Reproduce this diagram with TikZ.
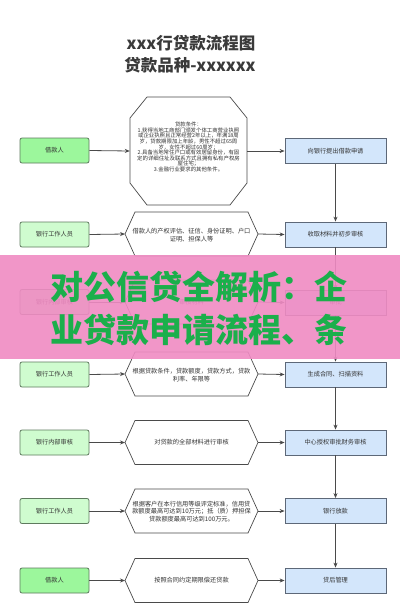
\documentclass[tikz,border=0pt]{standalone}
\usepackage{fontspec}
\newfontfamily\cjk{Noto Sans CJK SC}
\usetikzlibrary{arrows.meta,calc}
\definecolor{greenA}{HTML}{9CF79C}
\definecolor{greenB}{HTML}{CFFCCF}
\definecolor{lborder}{HTML}{5E7A5E}
\definecolor{blueC}{HTML}{D3E6FB}
\definecolor{rborder}{HTML}{5D6878}
\definecolor{textc}{HTML}{333333}
\definecolor{linec}{HTML}{4A4A4A}
\definecolor{titlec}{HTML}{3A3A3A}
\definecolor{pinkc}{HTML}{F08BC3}
\definecolor{bannergreen}{HTML}{1BAF4B}
\newcommand\drawhex[1]{%
  \draw[shapeline] ($(#1)+(-66.5,0)$) coordinate (#1w) -- ($(#1)+(-56.5,-22)$) -- ($(#1)+(56.5,-22)$) -- ($(#1)+(66.5,0)$) coordinate (#1e) -- ($(#1)+(56.5,22)$) -- ($(#1)+(-56.5,22)$) -- cycle;}
\begin{document}
\begin{tikzpicture}[x=1pt,y=-1pt,
  small/.style={font=\cjk\fontsize{6.2}{7.4}\selectfont, text=textc},
  lbox/.style={small, draw=lborder, rounded corners=2pt, minimum width=69pt, minimum height=25pt, inner sep=0pt, line width=0.8pt},
  lboxA/.style={lbox, fill=greenA},
  lboxB/.style={lbox, fill=greenB},
  rbox/.style={small, draw=rborder, fill=blueC, minimum width=101pt, minimum height=25pt, inner sep=0pt, line width=0.8pt},
  hextext/.style={small, text width=124pt, align=center, inner sep=0pt},
  shapeline/.style={draw=linec, line width=0.7pt, fill=white},
  conn/.style={draw=linec, line width=0.8pt, -{Stealth[length=5pt,width=4pt]}},
  titlef/.style={font=\cjk\bfseries\fontsize{16.5}{18}\selectfont, text=titlec, inner sep=0pt},
  bannerf/.style={font=\cjk\bfseries\fontsize{33}{33}\selectfont, text=bannergreen, inner sep=0pt}
]
\useasboundingbox (0,0) rectangle (400,616);
\fill[white] (0,0) rectangle (400,616);

% title
\node[titlef] (T1) at (191,43) {xxx行贷款流程图};
\node[titlef] (T2) at (190,65) {贷款品种-xxxxxx};

% row 1
\node[lboxA] (L1) at (54.5,150.5) {借款人};
\node[inner sep=0pt, minimum width=117pt, minimum height=108pt] (O1) at (188.5,151) {};
\draw[shapeline] ($(O1)+(-41.5,-54)$) -- ($(O1)+(41.5,-54)$) -- ($(O1)+(58.5,-33)$) -- ($(O1)+(58.5,32)$) -- ($(O1)+(41.5,54)$) -- ($(O1)+(-41.5,54)$) -- ($(O1)+(-58.5,32)$) -- ($(O1)+(-58.5,-33)$) -- cycle;
\node[font=\cjk\fontsize{5.4}{5.6}\selectfont, text=textc, align=center, inner sep=0pt] (O1t) at (188.5,147) {贷款条件：\\1.获得当地工商部门颁发个体工商营业执照\\或企业执照且正常经营2年以上，年满18周\\岁，贷款期限加上年龄，男性不超过65周\\岁，女性不超过60周岁；\\2.具备当地常住户口或有效居留身份，有固\\定的详细住址及联系方式且拥有私有产权房\\屋住宅；\\3.金融行业要求的其他条件。};
\node[rbox] (R1) at (335.5,151) {向银行提出借款申请};
\draw[conn] (L1.east) -- (O1.west);
\draw[conn] (O1.east) -- (R1.west);

% row 2
\node[lboxB] (L2) at (54.5,234.5) {银行工作人员};
\node[hextext] (M2) at (191.5,234) {};
\drawhex{M2}
\node[hextext] (M2t) at (191.5,235) {借款人的产权评估、征信、身份证明、户口\\证明、担保人等};
\node[rbox] (R2) at (335.5,234.5) {收取材料并初步审核};
\draw[conn] (L2.east) -- (M2w);
\draw[conn] (M2e) -- (R2.west);

% row 3 (under banner)
\node[lboxB] (L3) at (54.5,302) {银行内部审核};
\node[hextext] (M3) at (191.5,302) {};
\drawhex{M3}
\node[hextext] (M3t) at (191.5,302) {审核材料};
\node[rbox] (R3) at (335.5,302.5) {审批};
\draw[conn] (L3.east) -- (M3w);
\draw[conn] (M3e) -- (R3.west);

% row 4
\node[lboxB] (L4) at (54.5,374.5) {银行工作人员};
\node[hextext] (M4) at (191.5,374) {};
\drawhex{M4}
\node[hextext] (M4t) at (191.5,375) {根据贷款条件，贷款额度，贷款方式，贷款\\利率、年限等};
\node[rbox] (R4) at (335.5,374.5) {生成合同、扫描资料};
\draw[conn] (L4.east) -- (M4w);
\draw[conn] (M4e) -- (R4.west);

% row 5
\node[lboxB] (L5) at (54.5,442.5) {银行内部审核};
\node[hextext] (M5) at (191.5,442.5) {};
\drawhex{M5}
\node[hextext] (M5t) at (191.5,442.5) {对贷款的全部材料进行审核};
\node[rbox] (R5) at (335.5,442.5) {中心授权审批财务审核};
\draw[conn] (L5.east) -- (M5w);
\draw[conn] (M5e) -- (R5.west);

% row 6
\node[lboxB] (L6) at (54.5,511) {银行工作人员};
\node[hextext] (M6) at (191.5,511) {};
\drawhex{M6}
\node[hextext] (M6t) at (191.5,511.5) {根据客户在本行信用等级评定标准，信用贷\\款额度最高可达到10万元；抵（质）押担保\\贷款额度最高可达到100万元。};
\node[rbox] (R6) at (335.5,511) {银行放款};
\draw[conn] (L6.east) -- (M6w);
\draw[conn] (M6e) -- (R6.west);

% row 7
\node[lboxA] (L7) at (54.5,580.5) {借款人};
\node[hextext] (M7) at (191.5,580.5) {};
\drawhex{M7}
\node[hextext] (M7t) at (191.5,580.5) {按照合同约定期限偿还贷款};
\node[rbox] (R7) at (335.5,580.5) {贷后管理};
\draw[conn] (L7.east) -- (M7w);
\draw[conn] (M7e) -- (R7.west);

% vertical flow
\draw[conn] (R1.south) -- (R2.north);
\draw[conn] (R2.south) -- (R3.north);
\draw[conn] (R3.south) -- (R4.north);
\draw[conn] (R4.south) -- (R5.north);
\draw[conn] (R5.south) -- (R6.north);
\draw[conn] (R6.south) -- (R7.north);

% banner
\fill[pinkc, opacity=0.9] (0,255) rectangle (400,359);
\node[bannerf] (B1) at (199,287) {对公信贷全解析：企};
\node[bannerf] (B2) at (199,330) {业贷款申请流程、条};
\end{tikzpicture}
\end{document}
